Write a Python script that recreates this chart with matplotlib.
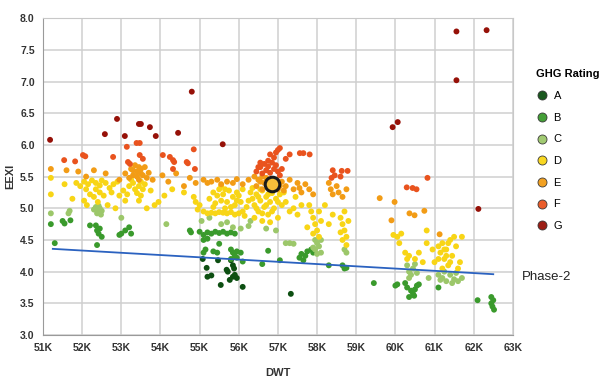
import matplotlib.pyplot as plt
from matplotlib.lines import Line2D
import matplotlib.ticker as mticker

plt.rcParams['font.family'] = ['Liberation Sans', 'DejaVu Sans']

# DWT in thousands, EEXI values per GHG rating
a_dwt = [55.18, 55.20, 55.30, 55.08, 55.47, 55.54, 55.69, 55.72, 55.77, 55.80, 55.85, 55.88, 55.90, 55.85, 55.95, 56.10, 57.33]
a_eexi = [4.06, 3.92, 3.94, 4.20, 4.18, 3.79, 4.03, 4.00, 3.87, 4.18, 4.10, 4.05, 3.95, 3.92, 3.90, 3.76, 3.65]

b_dwt = [51.20, 51.30, 51.50, 51.55, 51.70, 52.20, 52.35, 52.38, 52.42, 52.45, 52.50, 52.38, 52.95, 53.00,
         53.10, 53.20, 53.25, 54.75, 54.78, 55.00, 55.10, 55.20, 55.30, 55.40, 55.50, 55.60, 55.70, 55.80,
         55.90, 55.10, 55.20, 55.10, 55.15, 55.35, 55.45, 55.50, 55.80, 55.85, 55.90, 55.95, 55.80, 56.05,
         56.10, 55.95, 56.60, 56.75, 57.05, 57.60, 57.70, 57.75, 57.85, 57.55, 57.90, 57.65, 58.30, 58.65,
         58.70, 58.75, 59.45, 60.00, 60.05, 60.25, 60.30, 60.40, 60.45, 60.50, 60.55, 60.60, 60.35, 60.48,
         61.10, 62.10, 62.45, 62.50, 62.48, 62.52, 62.45]
b_eexi = [4.75, 4.45, 4.80, 4.76, 4.81, 4.73, 4.73, 4.65, 4.60, 4.68, 4.55, 4.42, 4.58, 4.60,
          4.65, 4.70, 4.60, 4.65, 4.62, 4.63, 4.58, 4.62, 4.60, 4.63, 4.61, 4.63, 4.60, 4.62,
          4.60, 4.50, 4.52, 4.30, 4.35, 4.32, 4.30, 4.44, 4.35, 4.30, 4.25, 4.32, 4.20, 4.30,
          4.16, 4.22, 4.12, 4.33, 4.18, 4.28, 4.25, 4.32, 4.35, 4.22, 4.30, 4.18, 4.10, 4.10,
          4.05, 4.06, 3.82, 3.78, 3.80, 3.82, 3.75, 3.70, 3.65, 3.72, 3.78, 3.80, 3.60, 3.62,
          3.75, 3.55, 3.60, 3.55, 3.45, 3.40, 3.50]

c_dwt = [51.20, 51.65, 51.68, 52.30, 52.35, 52.40, 52.45, 52.50, 52.38, 52.42, 52.48, 53.00, 54.15, 55.05,
         55.25, 55.55, 55.70, 55.85, 56.05, 56.25, 56.30, 56.70, 56.95, 57.20, 57.30, 57.40, 57.95, 58.00,
         58.05, 57.95, 58.10, 58.00, 57.90, 58.10, 58.70, 58.75, 60.30, 60.35, 60.40, 60.45, 60.50, 60.35,
         60.55, 60.85, 61.10, 61.20, 61.30, 61.40, 61.50, 61.55, 61.60, 61.70, 61.25, 61.45, 61.15]
c_eexi = [4.92, 4.92, 4.96, 4.98, 5.02, 4.95, 5.00, 4.96, 4.92, 5.04, 4.90, 4.85, 4.75, 4.80,
          4.85, 4.75, 4.78, 4.70, 4.68, 4.72, 4.80, 4.68, 4.65, 4.45, 4.45, 4.44, 4.50, 4.45,
          4.40, 4.35, 4.30, 4.28, 4.38, 4.50, 4.35, 4.30, 4.10, 4.00, 3.95, 4.05, 4.12, 3.90,
          3.98, 3.90, 3.95, 3.90, 3.85, 3.95, 3.88, 3.98, 3.85, 3.90, 4.00, 3.82, 3.87]

d_dwt = [51.20, 51.20, 51.55, 51.75, 51.85, 51.95, 52.05, 52.10, 52.15, 52.25, 52.35, 52.45, 52.50, 52.60,
         52.70, 52.80, 52.90, 52.05, 52.12, 52.20, 52.30, 52.40, 52.45, 52.55, 52.65, 52.85, 52.95, 53.05,
         53.10, 53.20, 53.30, 53.35, 53.45, 53.50, 53.55, 53.60, 53.25, 53.40, 53.65, 53.75, 53.85, 53.95,
         54.10, 54.30, 54.60, 54.85, 54.90, 54.95, 52.35, 52.75, 53.15, 53.50, 53.45,
         55.00, 55.10, 55.20, 55.30, 55.40, 55.50, 55.60, 55.70, 55.80, 55.90, 56.00, 56.10, 56.15, 55.35,
         55.45, 55.50, 55.55, 55.60, 55.70, 55.75, 55.85, 55.95, 56.05, 55.40, 55.65, 55.90, 56.20, 56.30,
         56.35, 56.40, 56.45, 56.50, 56.55, 56.60, 56.65, 56.70, 56.75, 56.80, 56.85, 56.90, 56.95, 57.00,
         57.05, 57.10, 56.40, 56.60, 56.80, 57.20, 57.30, 57.40, 57.45, 57.60, 57.50,
         55.25, 55.35, 55.55, 55.65, 55.80, 56.00, 56.10, 56.25, 56.35, 56.50, 56.55, 56.70, 56.75, 56.90,
         57.00, 56.85, 56.60, 56.45, 57.15, 55.95,
         57.80, 57.85, 57.90, 57.95, 58.00, 58.05, 58.10, 57.90, 58.05, 57.75, 58.20, 58.30, 58.40, 58.60,
         58.65, 58.70, 58.75, 58.65, 58.80, 58.70, 58.60, 58.75,
         59.95, 60.05, 60.15, 60.10, 60.25, 60.30, 60.35, 60.50, 60.60, 60.80, 60.80, 60.95, 61.00, 61.10,
         61.15, 61.20, 61.25, 61.30, 61.35, 61.40, 61.45, 61.20, 61.50, 61.55, 61.60, 61.65, 60.70, 61.70,
         61.30, 61.40, 61.25, 61.35, 61.10]
d_eexi = [5.48, 5.22, 5.38, 5.15, 5.40, 5.35, 5.42, 5.30, 5.38, 5.44, 5.40, 5.36, 5.44, 5.40,
          5.32, 5.38, 5.42, 5.12, 5.05, 5.22, 5.18, 5.10, 5.25, 5.20, 5.05, 5.00, 5.20, 5.28,
          5.12, 5.35, 5.40, 5.30, 5.35, 5.42, 5.30, 5.38, 5.45, 5.24, 5.00, 5.28, 5.05, 5.10,
          5.20, 5.30, 5.25, 5.18, 5.10, 4.98, 5.30, 5.25, 5.22, 5.20, 5.12,
          5.05, 4.95, 4.92, 4.93, 4.92, 4.94, 4.93, 4.92, 4.94, 4.90, 4.92, 4.95, 4.88, 5.25,
          5.20, 5.30, 5.12, 5.22, 5.10, 5.28, 5.18, 5.25, 5.10, 5.08, 5.00, 5.05, 5.02, 5.25,
          5.15, 5.05, 5.22, 4.95, 5.12, 5.28, 5.02, 5.18, 4.90, 5.10, 5.24, 5.00, 5.15, 4.85,
          5.22, 5.05, 4.85, 4.80, 4.78, 5.10, 4.95, 5.00, 5.18, 5.05, 4.90,
          5.15, 5.02, 5.35, 5.30, 5.02, 5.20, 5.30, 5.12, 5.32, 5.18, 5.30, 5.05, 5.22, 5.30,
          5.10, 4.95, 4.92, 5.00, 5.25, 5.12,
          5.05, 4.95, 4.85, 4.75, 4.65, 4.95, 4.80, 4.60, 4.55, 4.70, 5.05, 4.75, 4.90, 4.85,
          4.75, 4.65, 4.55, 4.50, 4.80, 4.95, 4.62, 4.42,
          4.58, 4.55, 4.60, 4.45, 4.30, 4.20, 4.25, 4.20, 4.30, 4.45, 4.65, 4.35, 4.15, 4.40,
          4.30, 4.45, 4.20, 4.35, 4.10, 4.50, 4.25, 4.05, 4.55, 4.40, 4.05, 4.15, 4.15, 4.55,
          4.25, 4.15, 4.35, 4.45, 4.20]

e_dwt = [51.20, 51.60, 51.90, 52.10, 52.30, 52.60, 52.95, 53.10, 53.20, 53.25, 53.30, 53.35, 53.40, 53.45,
         53.50, 53.55, 53.60, 53.65, 53.70, 53.80, 54.05, 54.20, 54.40, 54.60, 54.75, 54.90, 55.30, 55.45,
         55.55, 55.70, 55.85, 55.95, 56.10, 56.25, 56.40, 56.45, 56.55, 56.60, 56.70, 56.75, 56.95, 57.00,
         57.10, 57.20, 57.30, 57.40, 57.50, 57.60, 57.70, 57.80, 57.90, 58.30, 58.35, 58.40, 58.50, 58.55,
         58.65, 58.75, 59.60, 59.90, 59.98, 60.36, 60.49, 60.74, 61.13,
         56.50, 56.65, 56.85, 57.05, 56.60, 53.40, 53.50, 53.30, 53.45, 55.10, 55.20, 57.15, 57.55]
e_eexi = [5.62, 5.60, 5.58, 5.50, 5.60, 5.55, 5.45, 5.55, 5.48, 5.62, 5.52, 5.68, 5.58, 5.45,
          5.62, 5.52, 5.65, 5.48, 5.56, 5.45, 5.52, 5.42, 5.55, 5.35, 5.48, 5.40, 5.42, 5.45,
          5.38, 5.42, 5.40, 5.46, 5.38, 5.45, 5.50, 5.35, 5.42, 5.30, 5.48, 5.35, 5.45, 5.30,
          5.42, 5.35, 5.45, 5.30, 5.40, 5.25, 5.38, 5.30, 5.22, 5.40, 5.30, 5.22, 5.35, 5.25,
          5.18, 5.30, 5.16, 4.81, 5.10, 4.92, 4.89, 4.96, 4.59,
          5.45, 5.40, 5.45, 5.35, 5.50, 5.50, 5.55, 5.60, 5.65, 5.45, 5.40, 5.28, 5.32]

f_dwt = [51.54, 51.82, 52.02, 52.08, 52.79, 53.14, 53.17, 53.22, 53.39, 53.47, 53.47, 53.55, 54.06, 54.24,
         54.32, 54.35, 54.32, 54.67, 54.70, 54.88, 54.85, 56.45, 56.55, 56.60, 56.65, 56.70, 56.75, 56.80,
         56.85, 56.90, 56.95, 57.00, 57.05, 56.80, 56.90, 57.00, 57.05, 56.95, 57.20, 57.30, 57.56, 57.65,
         57.81, 58.37, 58.45, 58.40, 58.63, 58.78, 58.60, 60.29, 60.44, 60.54, 60.82,
         56.55, 56.75, 57.10, 56.50]
f_eexi = [5.76, 5.74, 5.84, 5.82, 5.81, 5.97, 5.73, 5.70, 6.03, 6.03, 5.84, 5.78, 5.84, 5.81,
          5.76, 5.73, 5.62, 5.73, 5.71, 5.62, 5.93, 5.58, 5.65, 5.55, 5.70, 5.60, 5.66, 5.56,
          5.72, 5.62, 5.68, 5.58, 5.52, 5.85, 5.80, 5.92, 5.95, 5.88, 5.78, 5.85, 5.87, 5.87,
          5.85, 5.48, 5.52, 5.60, 5.59, 5.59, 5.50, 5.33, 5.32, 5.30, 5.48,
          5.72, 5.75, 5.62, 5.65]

g_dwt = [51.18, 52.58, 52.89, 53.09, 53.45, 53.50, 53.73, 53.88, 54.45, 54.80, 55.59, 59.93, 60.06,
         61.56, 61.56, 62.33, 62.12]
g_eexi = [6.08, 6.17, 6.41, 6.14, 6.33, 6.33, 6.28, 6.14, 6.19, 6.84, 6.01, 6.28, 6.36,
          7.79, 7.02, 7.81, 4.99]

# Phase-2 reference line end points and the highlighted vessel
phase2_dwt = [51.25, 62.5]
phase2_eexi = [4.36, 3.96]
ship_dwt, ship_eexi = 56.86, 5.38

ratings = ['A', 'B', 'C', 'D', 'E', 'F', 'G']
colors = ['#0d4f12', '#3a9a2c', '#9cc76a', '#f8d516', '#f29c16', '#e9531e', '#961108']
series = [(a_dwt, a_eexi), (b_dwt, b_eexi), (c_dwt, c_eexi), (d_dwt, d_eexi),
          (e_dwt, e_eexi), (f_dwt, f_eexi), (g_dwt, g_eexi)]

fig = plt.figure(figsize=(6.0, 3.86), dpi=100)
ax = fig.add_axes([0.0717, 0.132, 0.783, 0.821])

for (xs, ys), col in zip(series, colors):
    ax.scatter(xs, ys, s=18, color=col, edgecolors='none', zorder=3)

ax.plot(phase2_dwt, phase2_eexi, color='#2b62c0', lw=1.3, zorder=4)
ax.scatter([ship_dwt], [ship_eexi], s=110, color='#f6bf3a', edgecolors='#1a1a1a',
           linewidths=2.2, zorder=5)

ax.set_xlim(51, 63)
ax.set_ylim(3.0, 8.0)
ax.set_xticks(range(51, 64))
ax.xaxis.set_major_formatter(mticker.FuncFormatter(lambda v, p: f'{int(v)}K'))
ax.set_yticks([3.0, 3.5, 4.0, 4.5, 5.0, 5.5, 6.0, 6.5, 7.0, 7.5, 8.0])
ax.yaxis.set_major_formatter(mticker.FormatStrFormatter('%.1f'))
ax.grid(True, color='#cfcfcf', lw=1.1, zorder=0)
ax.set_axisbelow(True)
for sp in ax.spines.values():
    sp.set_color('#c8c8c8')
ax.spines['left'].set_color('#9a9a9a')
ax.spines['bottom'].set_color('#9a9a9a')
ax.tick_params(length=0, labelsize=7.5, pad=6)
for lab in ax.get_xticklabels() + ax.get_yticklabels():
    lab.set_fontweight('bold')
    lab.set_color('#333333')

ax.set_xlabel('DWT', fontsize=8, fontweight='bold', color='#333333')
ax.xaxis.set_label_coords(0.50, -0.105)
ax.set_ylabel('EEXI', fontsize=8, fontweight='bold', color='#333333')
ax.yaxis.set_label_coords(-0.06, 0.5)

fig.text(0.870, 0.282, 'Phase-2', fontsize=9.5, color='#222222', va='center')

handles = [Line2D([], [], marker='o', linestyle='none', markersize=6.5,
                  markerfacecolor=c, markeredgecolor='#333333', markeredgewidth=0.6, alpha=0.95)
           for c in colors]
leg = fig.legend(handles, ratings, title='GHG Rating', loc='upper left',
                 bbox_to_anchor=(0.893, 0.82), frameon=False, fontsize=8,
                 labelspacing=1.05, handletextpad=0.4, handlelength=1.2, borderaxespad=0,
                 borderpad=0)
leg._legend_box.align = 'left'
leg.get_title().set_fontweight('bold')
leg.get_title().set_fontsize(8)

fig.savefig('out.png', dpi=100)
